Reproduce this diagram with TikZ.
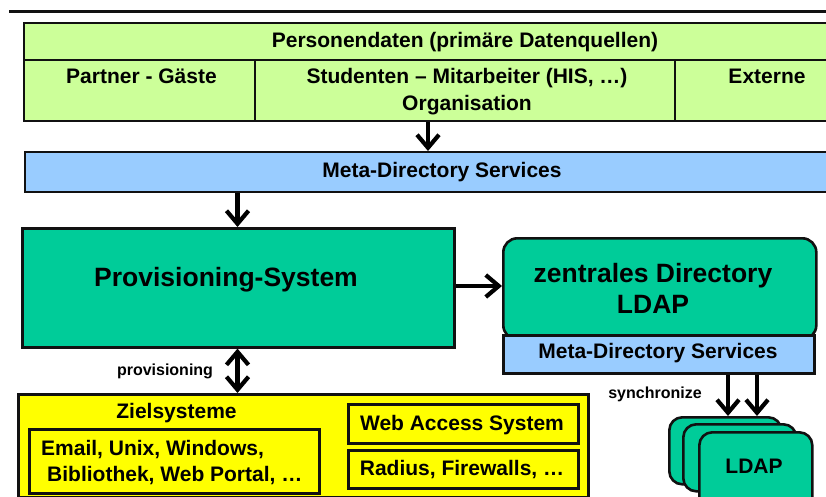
\documentclass[tikz,border=0pt]{standalone}
\usepackage{fontspec}
\setmainfont{Liberation Sans}
\usetikzlibrary{arrows.meta}

\definecolor{srcgreen}{HTML}{CCFF99}
\definecolor{mdsblue}{HTML}{99CCFF}
\definecolor{provgreen}{HTML}{00CC99}
\definecolor{zielyellow}{HTML}{FFFF00}
\definecolor{edge}{HTML}{111111}

\begin{document}
\begin{tikzpicture}[x=1pt, y=-1pt,
  box/.style={draw=edge, line width=2.2pt, inner sep=0pt, anchor=north west},
  rbox/.style={box, rounded corners=14pt},
  txt/.style={inner sep=0pt, anchor=base, font=\bfseries\fontsize{21}{25}\selectfont},
  bigtxt/.style={txt, font=\bfseries\fontsize{26.5}{31}\selectfont},
  smalltxt/.style={txt, font=\bfseries\fontsize{16}{19}\selectfont},
  barb/.tip={Straight Barb[length=13pt, width=22pt, line width=4.2pt]},
  flow/.style={draw=black, line width=4.2pt, -barb},
  bothflow/.style={flow, barb-barb}
]
\useasboundingbox (0,0) rectangle (826,497);
\clip (0,0) rectangle (826,497);

% heading rule
\draw[line width=3.6pt, edge] (9,11.5) -- (830,11.5);

% primary data sources
\node[box, fill=srcgreen, minimum width=830pt, minimum height=37pt] (srchead) at (23,22) {};
\node[box, fill=srcgreen, minimum width=231pt, minimum height=61pt] (partner) at (23,59) {};
\node[box, fill=srcgreen, minimum width=420pt, minimum height=61pt] (studenten) at (254,59) {};
\node[box, fill=srcgreen, minimum width=200pt, minimum height=61pt] (externe) at (674,59) {};
\node[txt] (tsrchead) at (465,48) {Personendaten (primäre Datenquellen)};
\node[txt] (tpartner) at (141.5,84) {Partner - Gäste};
\node[txt] (tstud1) at (467,84) {Studenten – Mitarbeiter (HIS, …)};
\node[txt] (tstud2) at (467,111) {Organisation};
\node[txt] (texterne) at (767,84) {Externe};

% meta-directory services (main bar)
\node[box, fill=mdsblue, minimum width=840pt, minimum height=40pt] (meta) at (24,151) {};
\node[txt] (tmeta) at (442,177) {Meta-Directory Services};

% provisioning system
\node[box, fill=provgreen, line width=2.6pt, minimum width=432pt, minimum height=119pt] (prov) at (21,227) {};
\node[bigtxt] (tprov) at (226,286) {Provisioning-System};

% central directory
\node[rbox, fill=provgreen, line width=2.6pt, minimum width=313pt, minimum height=101pt] (zdir) at (502,237) {};
\node[bigtxt] (tzdir1) at (653,282) {zentrales Directory};
\node[bigtxt] (tzdir2) at (653,313) {LDAP};
\node[box, fill=mdsblue, line width=2.6pt, minimum width=311pt, minimum height=38pt] (metasm) at (502,334) {};
\node[txt] (tmetasm) at (658,358) {Meta-Directory Services};

% replicated LDAP servers
\node[box, fill=provgreen, line width=2.6pt, rounded corners=13pt, minimum width=112pt, minimum height=67pt] (ldapa) at (668,416) {};
\node[box, fill=provgreen, line width=2.6pt, rounded corners=13pt, minimum width=113pt, minimum height=67pt] (ldapb) at (682,423) {};
\node[box, fill=provgreen, line width=2.6pt, rounded corners=13pt, minimum width=113pt, minimum height=80pt] (ldapc) at (698,431) {};
\node[txt] (tldap) at (754,473) {LDAP};

% target systems
\node[box, fill=zielyellow, line width=2.6pt, minimum width=570pt, minimum height=103pt] (ziel) at (17,393) {};
\node[txt] (tziel) at (176.5,418) {Zielsysteme};
\node[box, fill=zielyellow, line width=2.8pt, minimum width=290pt, minimum height=64pt] (email) at (28,428) {};
\node[txt, anchor=base west] (temail1) at (41,455) {Email, Unix, Windows,};
\node[txt, anchor=base west] (temail2) at (47,481) {Bibliothek, Web Portal, …};
\node[box, fill=zielyellow, line width=2.8pt, minimum width=230pt, minimum height=39pt] (web) at (347,403) {};
\node[txt] (tweb) at (462,430) {Web Access System};
\node[box, fill=zielyellow, line width=2.8pt, minimum width=230pt, minimum height=38pt] (radius) at (347,449) {};
\node[txt] (tradius) at (462,475) {Radius, Firewalls, …};

% edge labels
\node[smalltxt] (lprov) at (165,375) {provisioning};
\node[smalltxt] (lsync) at (655,398) {synchronize};

% connectors
\coordinate (xsrc) at (428,0);
\coordinate (xmeta) at (237.5,0);
\coordinate (yprov) at (0,286);
\coordinate (xsynca) at (728,0);
\coordinate (xsyncb) at (757,0);
\draw[flow] (xsrc |- studenten.south) -- (xsrc |- meta.north);
\draw[flow] (xmeta |- meta.south) -- (xmeta |- prov.north);
\draw[flow] (prov.east |- yprov) -- (zdir.west |- yprov);
\draw[bothflow] (xmeta |- prov.south) -- (xmeta |- ziel.north);
\draw[flow] (xsynca |- metasm.south) -- (xsynca |- ldapa.north);
\draw[flow] (xsyncb |- metasm.south) -- (xsyncb |- ldapa.north);
\end{tikzpicture}
\end{document}
